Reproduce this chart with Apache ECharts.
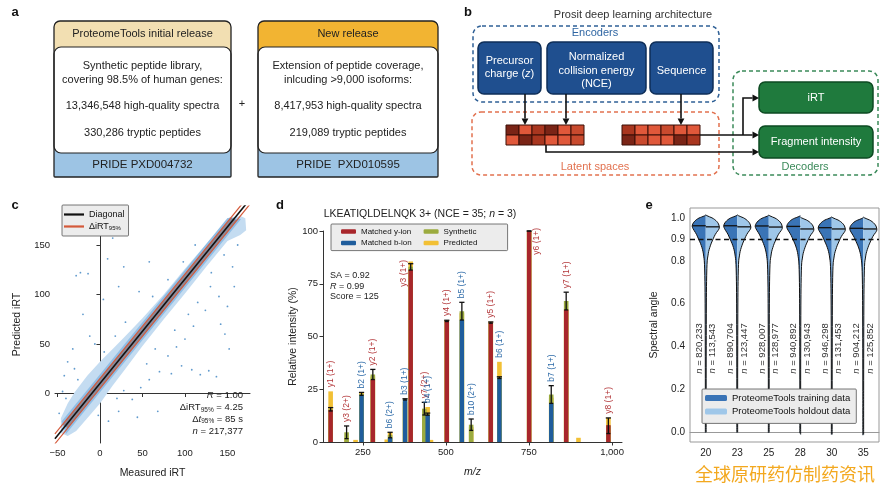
<!DOCTYPE html>
<html><head><meta charset="utf-8">
<script src="https://cdn.jsdelivr.net/npm/echarts@6/dist/echarts.min.js"></script>
<style>html,body{margin:0;padding:0;background:#fff}#c{width:892px;height:491px}</style>
</head><body><div id="c"></div>
<script>
// ================= DATA =================
// Panel a
const releaseTitles = ['ProteomeTools initial release', 'New release'];
const releaseDesc = [['Synthetic peptide library,', 'covering 98.5% of human genes:'],
                     ['Extension of peptide coverage,', 'inlcuding >9,000 isoforms:']];
const releaseSpectra = ['13,346,548 high-quality spectra', '8,417,953 high-quality spectra'];
const releasePeptides = ['330,286 tryptic peptides', '219,089 tryptic peptides'];
const releasePride = ['PRIDE PXD004732', 'PRIDE  PXD010595'];
// Panel b
const archTitle = 'Prosit deep learning architecture';
const encoderLabels = ['Precursor\ncharge ({i|z})', 'Normalized\ncollision energy\n(NCE)', 'Sequence'];
const decoderLabels = ['iRT', 'Fragment intensity'];
const groupLabels = ['Encoders', 'Latent spaces', 'Decoders'];
const latentShades1 = [[0, 1, 2, 0, 1, 3], [1, 0, 2, 1, 1, 3]];
const latentShades2 = [[2, 1, 1, 3, 1, 1], [0, 3, 1, 1, 0, 2]];
// Panel c
const diagonalPts = [[-53, -45.8], [177, 196.8]];
const deltaUpperPts = [[-53, -40.8], [177, 201.8]];
const deltaLowerPts = [[-53, -50.8], [177, 191.8]];
const cloudOutline = [[-46,-40],[-46,-25],[-38,-10],[-30,1],[-15,18],[0,32],[15,45],[30,58],[50,76],[75,100],[100,126],[125,151],[145,171],[152,178],[166,179],[171,177],
  [172,165],[165,160],[150,154],[125,128],[100,101],[75,75],[50,48],[30,25],[15,8],[0,-10],[-15,-25],[-28,-38],[-38,-43]];
const denseOutline = [[-45,-28],[150,177.4],[166,176.3],[-40,-41]];
const coreOutline = [[-44,-31.3],[154,177.6],[161,175],[-38,-35]];
const outlierPts = [[-28,119],[-23,122],[-14,121],[9,136],[28,128],[15,157],[-20,80],[4,95],[22,108],[-12,58],[-38,32],[-42,18],[-32,45],[-6,50],[46,103],[58,133],[-30,25],[-26,14],[5,42],[18,58],[30,72],[62,98],[80,115],[98,133],[112,150],[-40,-5],[-48,-20],[-44,2],
  [28,3],[38,-6],[48,6],[58,14],[70,22],[84,20],[96,28],[108,24],[118,19],[128,23],[137,17],[142,70],[147,60],[150,88],[158,108],[156,128],[140,98],[124,84],[110,68],[100,55],[90,47],[80,38],[68,-18],[44,-24],[22,-18],[10,-28],[104,80],[131,122],[146,140],[162,150],[55,30],[65,45],[88,64],[115,92],[130,108],[20,-5],[-2,-22],[152,45]];
const cTicks = [-50, 0, 50, 100, 150];
const cYTicks = [0, 50, 100, 150];
// Panel d
const spectrumTitle = 'LKEATIQLDELNQK 3+ (NCE = 35; {i|n} = 3)';
const peakMz       = [153, 201, 246, 280, 332, 377, 394, 435, 445, 502.6, 548, 576, 635, 661, 750.5, 817, 862, 989];
const peakType     = ['y','y','b','y','b','b','y','y','b','y','b','b','y','b','y','b','y','y'];
const peakLabel    = ['y1 (1+)','y3 (2+)','b2 (1+)','y2 (1+)','b6 (2+)','b3 (1+)','y3 (1+)','y7 (2+)','b4 (1+)','y4 (1+)','b5 (1+)','b10 (2+)','y5 (1+)','b6 (1+)','y6 (1+)','b7 (1+)','y7 (1+)','y8 (1+)'];
const peakMeasured = [15.2, 0, 22.3, 29.4, 2, 20.2, 81.5, 0, 12.8, 57.3, 57.8, 0, 56.6, 30.5, 100, 18.3, 62.6, 8];
const peakSynth    = [15.5, 4.6, 22.8, 32, 3.3, 20.2, 83, 15.8, 13.2, 57.4, 62, 8.2, 56.6, 30.5, 100, 22.5, 66.8, 7.7];
const peakSynthErr = [0.8, 3, 0.7, 2.4, 1.3, 0.3, 1.5, 3, 0.5, 0.3, 4.2, 2.7, 0.3, 0.4, 0, 4.2, 4.2, 3.7];
const peakPred     = [24, 2, 23.4, 31, 4.5, 19, 85.5, 15.5, 16.6, 57.8, 61, 7, 57, 38, 99.5, 21, 63, 11.5];
const extraPredMz  = [228, 322, 455, 899];
const extraPred    = [1, 1.2, 1, 2];
const spectrumStats = 'SA = 0.92\n{i|R} = 0.99\nScore = 125';
const dXTicks = [250, 500, 750, 1000];
// Panel e
const nceLabels = ['20', '23', '25', '28', '30', '35'];
const violinSA   = [1.012, 1.008, 1.003, 0.998, 0.99, 0.98, 0.97, 0.96, 0.95, 0.94, 0.93, 0.92, 0.91, 0.90, 0.89, 0.88, 0.86, 0.84, 0.82, 0.80, 0.76, 0.70, 0.60, 0.40, 0.20, -0.005];
const trainShape = [0, 0.10, 0.30, 0.50, 0.70, 0.86, 0.96, 1.0, 0.95, 0.86, 0.76, 0.67, 0.60, 0.53, 0.46, 0.39, 0.28, 0.20, 0.15, 0.11, 0.08, 0.06, 0.045, 0.035, 0.03, 0.03];
const holdShape  = [0, 0.09, 0.27, 0.46, 0.66, 0.83, 0.94, 0.99, 1.0, 0.92, 0.80, 0.70, 0.62, 0.55, 0.48, 0.41, 0.30, 0.21, 0.16, 0.11, 0.08, 0.06, 0.045, 0.035, 0.03, 0.03];
const trainShapeCenter = 0.962, holdShapeCenter = 0.956;
const trainMedian = [0.964, 0.964, 0.963, 0.961, 0.955, 0.952];
const holdMedian  = [0.959, 0.959, 0.958, 0.949, 0.949, 0.949];
const trainN = ['820,233', '890,704', '928,007', '940,892', '946,298', '904,212'];
const holdN  = ['113,543', '123,447', '128,977', '130,943', '131,453', '125,852'];
const eYTicks = [0, 0.2, 0.4, 0.6, 0.8, 0.9, 1.0];
const threshold = 0.9;
const watermark = '全球原研药仿制药资讯';

// ================= HELPERS =================
const FF = '"Liberation Sans", Arial, sans-serif';
const fnt = (s, st) => (st ? st + ' ' : '') + s + 'px ' + FF;
function txt(x, y, text, size, o) {
  o = o || {};
  const al = o.align || 'center', va = o.va || 'middle';
  const st = {text: text, font: o.font || fnt(size, o.style), fill: o.fill || '#222',
    align: al, textAlign: al, verticalAlign: va, textVerticalAlign: va};
  if (o.rich) st.rich = o.rich;
  if (o.lineHeight) { st.lineHeight = o.lineHeight; st.textLineHeight = o.lineHeight; }
  return {type: 'text', x: x, y: y, rotation: o.rotation || 0, z: o.z || 100, silent: true, style: st};
}
function arrow(pts) {
  const a = pts[pts.length - 2], b = pts[pts.length - 1];
  const dx = b[0] - a[0], dy = b[1] - a[1], L = Math.hypot(dx, dy), ux = dx / L, uy = dy / L;
  const hl = 6.5, hw = 3.4;
  const base = [b[0] - ux * hl, b[1] - uy * hl];
  const line = pts.slice(0, -1).concat([base]);
  return [
    {type: 'polyline', z: 50, silent: true, shape: {points: line}, style: {stroke: '#111', lineWidth: 1.6, fill: null}},
    {type: 'polygon', z: 50, silent: true, shape: {points: [[b[0], b[1]], [base[0] - uy * hw, base[1] + ux * hw], [base[0] + uy * hw, base[1] - ux * hw]]}, style: {fill: '#111'}}
  ];
}
function interp(xs, ys, v) {
  for (let k = 0; k < xs.length - 1; k++) {
    const a = xs[k], b = xs[k + 1];
    if ((v <= a && v >= b) || (v >= a && v <= b)) { const t = (v - a) / (b - a); return ys[k] + t * (ys[k + 1] - ys[k]); }
  }
  return 0;
}

const G = [];
[['a', 15, 12], ['b', 468, 12], ['c', 15, 205], ['d', 280, 205], ['e', 649, 205]].forEach(p => G.push(txt(p[1], p[2], p[0], 13, {style: 'bold', fill: '#111'})));

// ---- Panel a
const boxX = [54, 258], boxW = [177, 180];
const headerFills = ['#f2dfb2', '#f2b432'];
for (let i = 0; i < 2; i++) {
  const x = boxX[i], w = boxW[i], cx = x + w / 2;
  G.push({type: 'rect', silent: true, z: 10, shape: {x: x, y: 21, width: w, height: 156, r: [6, 6, 1, 1]}, style: {fill: headerFills[i]}});
  G.push({type: 'rect', silent: true, z: 11, shape: {x: x, y: 130, width: w, height: 47, r: [0, 0, 1, 1]}, style: {fill: '#9dc4e4'}});
  G.push({type: 'rect', silent: true, z: 12, shape: {x: x, y: 47, width: w, height: 106, r: 7}, style: {fill: '#fff', stroke: '#222', lineWidth: 1.2}});
  G.push({type: 'rect', silent: true, z: 13, shape: {x: x, y: 21, width: w, height: 156, r: [6, 6, 1, 1]}, style: {fill: null, stroke: '#222', lineWidth: 1.3}});
  G.push(txt(cx, 34, releaseTitles[i], 11));
  G.push(txt(cx, 66, releaseDesc[i][0], 11));
  G.push(txt(cx, 80, releaseDesc[i][1], 11));
  G.push(txt(cx, 106, releaseSpectra[i], 11));
  G.push(txt(cx, 133, releasePeptides[i], 11));
  G.push(txt(cx, 165, releasePride[i], 11.5));
}
G.push(txt(242, 104, '+', 11));

// ---- Panel b
G.push(txt(633, 15, archTitle, 11, {fill: '#333'}));
G.push({type: 'rect', silent: true, z: 20, shape: {x: 473, y: 26, width: 246, height: 76, r: 9}, style: {fill: null, stroke: '#2f6096', lineWidth: 1.5, lineDash: [4, 3]}});
G.push({type: 'rect', silent: true, z: 20, shape: {x: 472, y: 112, width: 247, height: 63, r: 9}, style: {fill: null, stroke: '#e2714f', lineWidth: 1.5, lineDash: [4, 3]}});
G.push({type: 'rect', silent: true, z: 20, shape: {x: 733, y: 71, width: 145, height: 104, r: 9}, style: {fill: null, stroke: '#3b8a5a', lineWidth: 1.5, lineDash: [4, 3]}});
G.push(txt(595, 33, groupLabels[0], 11, {fill: '#2f66a3'}));
G.push(txt(595, 167, groupLabels[1], 11, {fill: '#e2714f'}));
G.push(txt(805, 167, groupLabels[2], 11, {fill: '#3b8a5a'}));
const encBoxes = [[478, 63, 67.5], [547, 99, 70.5], [650, 63, 71]];
encBoxes.forEach((b, i) => {
  G.push({type: 'rect', silent: true, z: 30, shape: {x: b[0], y: 42, width: b[1], height: 52, r: 6}, style: {fill: '#1f4f8f', stroke: '#0e2e58', lineWidth: 1.5}});
  G.push(txt(b[0] + b[1] / 2, b[2], encoderLabels[i], 11, {fill: '#fff', lineHeight: 13.4, rich: {i: {font: fnt(11, 'italic'), fill: '#fff'}}}));
});
[[82, 31], [126, 32]].forEach((b, i) => {
  G.push({type: 'rect', silent: true, z: 30, shape: {x: 759, y: b[0], width: 114, height: b[1], r: 6}, style: {fill: '#1f7a3d', stroke: '#0d4a22', lineWidth: 1.5}});
  G.push(txt(816, b[0] + b[1] / 2, decoderLabels[i], 11, {fill: '#fff'}));
});
const latentPalette = ['#7a2416', '#e0583a', '#a9361f', '#c94a2e'];
[[506, latentShades1], [622, latentShades2]].forEach(g => {
  g[1].forEach((row, r) => row.forEach((c, k) => {
    G.push({type: 'rect', silent: true, z: 30, shape: {x: g[0] + k * 13, y: 125 + r * 10, width: 13, height: 10}, style: {fill: latentPalette[c], stroke: '#3a0e06', lineWidth: 1}});
  }));
});
[[[525, 94], [525, 125]], [[566, 94], [566, 125]], [[681, 94], [681, 125]],
 [[700, 135], [759, 135]], [[743, 135], [743, 98], [759, 98]], [[546, 145], [546, 152], [759, 152]]]
  .forEach(p => arrow(p).forEach(e => G.push(e)));

// ---- Panel c stats
G.push(txt(243, 390, '{i|R}{t| = 1.00}\n{t|ΔiRT}{s|95%}{t| = 4.25}\n{t|Δ}{i|t}{s|95%}{t| = 85 s}\n{i|n}{t| = 217,377}', 9.5,
  {align: 'right', va: 'top', lineHeight: 11.7,
   rich: {t: {font: fnt(9.5), fill: '#222', lineHeight: 11.7}, i: {font: fnt(9.5, 'italic'), fill: '#222', lineHeight: 11.7},
          s: {font: fnt(6.5), fill: '#222', lineHeight: 7, verticalAlign: 'bottom'}}}));
// ---- Panel d title and stats
G.push(txt(420, 214, spectrumTitle, 10.5, {rich: {i: {font: fnt(10.5, 'italic'), fill: '#222'}}}));
G.push(txt(330, 270, spectrumStats, 9, {align: 'left', va: 'top', lineHeight: 10.7, rich: {i: {font: fnt(9, 'italic'), fill: '#222'}}}));
// ---- watermark
G.push({type: 'text', x: 785, y: 474, z: 200, silent: true, style: {text: watermark, font: '18px "Noto Sans CJK SC"', fill: '#f3a81f', align: 'center', textAlign: 'center', verticalAlign: 'middle', textVerticalAlign: 'middle'}});

// ================= CHART =================
const axisCommon = (extra) => Object.assign({
  axisLine: {lineStyle: {color: '#333', width: 1}},
  axisTick: {length: 3.5, lineStyle: {color: '#333'}},
  axisLabel: {color: '#222', fontSize: 9.5, fontFamily: FF, margin: 4},
  splitLine: {show: false},
  nameTextStyle: {color: '#222', fontSize: 10.5, fontFamily: FF},
  nameLocation: 'middle'
}, extra);
const minusFmt = v => (v < 0 ? '\u2212' + Math.abs(v) : String(v));

const polySeries = (name, pts, color, z) => ({
  type: 'custom', name: name, xAxisIndex: 0, yAxisIndex: 0, z: z, silent: true, data: [pts[0]],
  renderItem: (params, api) => ({type: 'polygon', shape: {points: pts.map(p => api.coord(p))}, style: {fill: color}})
});

const barRender = (w) => (params, api) => {
  const p = api.coord([api.value(0), api.value(1)]);
  const b = api.coord([api.value(0), 0]);
  return {type: 'rect', shape: {x: p[0] - w / 2, y: p[1], width: w, height: b[1] - p[1]}, style: {fill: api.visual('color')}};
};
const Y_COL = '#a8262b', B_COL = '#1f5d9c', S_COL = '#9bab3f', P_COL = '#f2c035';
const predData = peakMz.map((m, i) => [m, peakPred[i]]).concat(extraPredMz.map((m, i) => [m, extraPred[i]]));
const synthData = peakMz.map((m, i) => [m, peakSynth[i]]);
const yData = [], bData = [];
peakMz.forEach((m, i) => { if (peakMeasured[i] > 0) (peakType[i] === 'y' ? yData : bData).push([m, peakMeasured[i]]); });
const errData = peakMz.map((m, i) => [m, peakSynth[i] - peakSynthErr[i], peakSynth[i] + peakSynthErr[i]]);
const labelData = peakMz.map((m, i) => [m, Math.max(peakMeasured[i], peakSynth[i] + peakSynthErr[i], peakPred[i]), i]);
const D_LEGEND = {left: 331, top: 224, width: 172};

const violinHalf = (side, shape, center, medians) => (params, api) => {
  const i = params.dataIndex;
  const shift = medians[i] - center;
  const cx = api.coord([i, 0])[0];
  const maxW = api.size([1, 0])[0] * 0.43;
  const pts = violinSA.map((s, k) => [cx + side * shape[k] * maxW, api.coord([i, s + shift])[1]]);
  const poly = pts.concat([[cx, pts[pts.length - 1][1]], [cx, pts[0][1]]]);
  return {type: 'polygon', shape: {points: poly}, style: {fill: api.visual('color')}};
};
const violinOutline = (params, api) => {
  const i = params.dataIndex;
  const cx = api.coord([i, 0])[0];
  const maxW = api.size([1, 0])[0] * 0.43;
  const sL = trainMedian[i] - trainShapeCenter, sR = holdMedian[i] - holdShapeCenter;
  const L = violinSA.map((s, k) => [cx - trainShape[k] * maxW, api.coord([i, s + sL])[1]]);
  const R = violinSA.map((s, k) => [cx + holdShape[k] * maxW, api.coord([i, s + sR])[1]]);
  const yMl = api.coord([i, trainMedian[i]])[1], yMr = api.coord([i, holdMedian[i]])[1];
  const wMl = interp(violinSA, trainShape, trainShapeCenter) * maxW, wMr = interp(violinSA, holdShape, holdShapeCenter) * maxW;
  const st = {stroke: '#111', lineWidth: 1, fill: null};
  return {type: 'group', children: [
    {type: 'polyline', shape: {points: L, smooth: 0.3}, style: st},
    {type: 'polyline', shape: {points: R, smooth: 0.3}, style: st},
    {type: 'line', shape: {x1: cx - wMl, y1: yMl, x2: cx, y2: yMl}, style: {stroke: '#111', lineWidth: 1.3}},
    {type: 'line', shape: {x1: cx, y1: yMr, x2: cx + wMr, y2: yMr}, style: {stroke: '#111', lineWidth: 1.3}}
  ]};
};

const option = {
  animation: false,
  backgroundColor: '#fff',
  textStyle: {fontFamily: FF},
  grid: [
    {left: 55, top: 206, width: 195, height: 237},
    {left: 323, top: 231, width: 299, height: 211},
    {left: 690, top: 208, width: 189, height: 234, show: true, borderColor: '#999', borderWidth: 1}
  ],
  xAxis: [
    axisCommon({gridIndex: 0, type: 'value', min: -52.9, max: 176.5, name: 'Measured iRT', nameGap: 25,
      axisTick: {customValues: cTicks, length: 3.5, lineStyle: {color: '#333'}},
      axisLabel: {customValues: cTicks, formatter: minusFmt, color: '#222', fontSize: 9.5, fontFamily: FF, margin: 5}}),
    axisCommon({gridIndex: 1, type: 'value', min: 130, max: 1030, name: 'm/z', nameGap: 25,
      nameTextStyle: {color: '#222', fontSize: 10.5, fontFamily: FF, fontStyle: 'italic'},
      axisTick: {customValues: dXTicks, length: 3.5, lineStyle: {color: '#333'}},
      axisLabel: {customValues: dXTicks, formatter: v => v >= 1000 ? '1,000' : String(v), color: '#222', fontSize: 9.5, fontFamily: FF, margin: 5}}),
    axisCommon({gridIndex: 2, type: 'category', data: nceLabels, boundaryGap: true,
      axisLine: {lineStyle: {color: '#999'}},
      axisTick: {alignWithLabel: true, length: 3.5, lineStyle: {color: '#333'}},
      axisLabel: {color: '#222', fontSize: 10, fontFamily: FF, margin: 6}})
  ],
  yAxis: [
    axisCommon({gridIndex: 0, type: 'value', min: -50, max: 189.4, name: 'Predicted iRT', nameGap: 32,
      axisTick: {customValues: cYTicks, length: 3.5, lineStyle: {color: '#333'}},
      axisLabel: {customValues: cYTicks, color: '#222', fontSize: 9.5, fontFamily: FF, margin: 5}}),
    axisCommon({gridIndex: 1, type: 'value', min: 0, max: 100, interval: 25, name: 'Relative intensity (%)', nameGap: 21,
      axisLabel: {color: '#222', fontSize: 9.5, fontFamily: FF, margin: 5}}),
    axisCommon({gridIndex: 2, type: 'value', min: -0.047, max: 1.047, name: 'Spectral angle', nameGap: 30,
      axisLine: {lineStyle: {color: '#999'}},
      axisTick: {customValues: eYTicks, length: 3.5, lineStyle: {color: '#333'}},
      axisLabel: {customValues: eYTicks, formatter: v => v.toFixed(1), color: '#222', fontSize: 10, fontFamily: FF, margin: 5}})
  ],
  legend: [
    {data: ['Diagonal', 'ΔiRT95%'], orient: 'vertical', left: 62, top: 205, icon: 'rect', itemWidth: 20, itemHeight: 2.2, itemGap: 3,
     backgroundColor: '#ececec', borderColor: '#555', borderWidth: 0.8, borderRadius: 1, padding: [5, 4, 5, 2],
     formatter: n => n === 'ΔiRT95%' ? '{t|ΔiRT}{s|95%}' : '{t|' + n + '}',
     textStyle: {fontSize: 9, color: '#111', fontFamily: FF, lineHeight: 9,
       rich: {t: {fontSize: 9, fontFamily: FF, color: '#111', lineHeight: 9}, s: {fontSize: 6, fontFamily: FF, color: '#111', lineHeight: 5, verticalAlign: 'bottom'}}}},
    {data: ['Matched y-ion', 'Synthetic', 'Matched b-ion', 'Predicted'], orient: 'horizontal', left: D_LEGEND.left, top: D_LEGEND.top, width: D_LEGEND.width,
     icon: 'roundRect', itemWidth: 15, itemHeight: 4.5, itemGap: 2.6,
     backgroundColor: '#ececec', borderColor: '#555', borderWidth: 0.8, borderRadius: 1, padding: [3, 4, 3, 10],
     textStyle: {fontSize: 8, color: '#111', fontFamily: FF, lineHeight: 9, width: 60}},
    {data: ['ProteomeTools training data', 'ProteomeTools holdout data'], orient: 'vertical', left: 702, top: 389,
     icon: 'roundRect', itemWidth: 22, itemHeight: 6, itemGap: 3.4,
     backgroundColor: '#ececec', borderColor: '#555', borderWidth: 0.8, borderRadius: 1, padding: [4, 6, 7, 3],
     textStyle: {fontSize: 9.5, color: '#111', fontFamily: FF, lineHeight: 10}}
  ],
  series: [
    // ---- c
    polySeries('cloud', cloudOutline, '#c4dcf1', 1),
    polySeries('dense', denseOutline, '#8fbee6', 1),
    polySeries('core', coreOutline, '#8b8a9a', 2),
    {type: 'scatter', name: 'outliers', xAxisIndex: 0, yAxisIndex: 0, data: outlierPts, symbolSize: 1.8, silent: true, z: 1,
     itemStyle: {color: '#4f8fc8', opacity: 0.9}},
    {type: 'line', name: 'ΔiRT95%', xAxisIndex: 0, yAxisIndex: 0, data: deltaUpperPts, symbol: 'none', silent: true, z: 4,
     itemStyle: {color: '#d4593a'}, lineStyle: {color: '#d4593a', width: 1.2}},
    {type: 'line', name: 'ΔiRT95%', xAxisIndex: 0, yAxisIndex: 0, data: deltaLowerPts, symbol: 'none', silent: true, z: 4,
     itemStyle: {color: '#d4593a'}, lineStyle: {color: '#d4593a', width: 1.2}},
    {type: 'line', name: 'Diagonal', xAxisIndex: 0, yAxisIndex: 0, data: diagonalPts, symbol: 'none', silent: true, z: 5,
     itemStyle: {color: '#111'}, lineStyle: {color: '#111', width: 1.6}},
    // ---- d
    {type: 'custom', name: 'Predicted', xAxisIndex: 1, yAxisIndex: 1, data: predData, z: 2, silent: true, itemStyle: {color: P_COL}, renderItem: barRender(4.6)},
    {type: 'custom', name: 'Synthetic', xAxisIndex: 1, yAxisIndex: 1, data: synthData, z: 3, silent: true, itemStyle: {color: S_COL}, renderItem: barRender(4.6)},
    {type: 'custom', name: 'Matched y-ion', xAxisIndex: 1, yAxisIndex: 1, data: yData, z: 4, silent: true, itemStyle: {color: Y_COL}, renderItem: barRender(4.4)},
    {type: 'custom', name: 'Matched b-ion', xAxisIndex: 1, yAxisIndex: 1, data: bData, z: 4, silent: true, itemStyle: {color: B_COL}, renderItem: barRender(4.4)},
    {type: 'custom', name: 'err', xAxisIndex: 1, yAxisIndex: 1, data: errData, z: 6, silent: true,
     renderItem: (params, api) => {
       const lo = api.coord([api.value(0), api.value(1)]), hi = api.coord([api.value(0), api.value(2)]);
       const cx = lo[0], st = {stroke: '#111', lineWidth: 1.3};
       return {type: 'group', children: [
         {type: 'line', shape: {x1: cx, y1: lo[1], x2: cx, y2: hi[1]}, style: st},
         {type: 'line', shape: {x1: cx - 2.6, y1: hi[1], x2: cx + 2.6, y2: hi[1]}, style: st},
         {type: 'line', shape: {x1: cx - 2, y1: lo[1], x2: cx + 2, y2: lo[1]}, style: st}
       ]};
     }},
    {type: 'custom', name: 'labels', xAxisIndex: 1, yAxisIndex: 1, data: labelData, z: 7, silent: true,
     renderItem: (params, api) => {
       const i = api.value(2);
       const p = api.coord([api.value(0), api.value(1)]);
       const gridTop = params.coordSys.y;
       const t = peakLabel[i];
       const len = t.length * 4.3;
       const legBottom = D_LEGEND.top + 27, legRight = D_LEGEND.left + D_LEGEND.width;
       let x = p[0], y = p[1] - 4, al = 'left';
       if (y - len < legBottom + 2 && p[0] > D_LEGEND.left && p[0] < legRight) { x = p[0] - 7; y = legBottom + 9; al = 'right'; }
       else if (y - len < gridTop - 2) { x = p[0] + 8; y = gridTop - 3; al = 'right'; }
       const col = peakType[i] === 'y' ? '#b3373a' : '#2e6ba8';
       return {type: 'text', x: x, y: y, rotation: Math.PI / 2,
         style: {text: t, font: fnt(8.5), fill: col, align: al, textAlign: al, verticalAlign: 'middle', textVerticalAlign: 'middle'}};
     }},
    // ---- e
    {type: 'custom', name: 'ProteomeTools training data', xAxisIndex: 2, yAxisIndex: 2, z: 2, silent: true,
     data: trainMedian.map((m, i) => [i, m]), itemStyle: {color: '#3a74b6'},
     renderItem: violinHalf(-1, trainShape, trainShapeCenter, trainMedian)},
    {type: 'custom', name: 'ProteomeTools holdout data', xAxisIndex: 2, yAxisIndex: 2, z: 2, silent: true,
     data: holdMedian.map((m, i) => [i, m]), itemStyle: {color: '#9fc7e9'},
     renderItem: violinHalf(1, holdShape, holdShapeCenter, holdMedian)},
    {type: 'custom', name: 'outline', xAxisIndex: 2, yAxisIndex: 2, z: 3, silent: true,
     data: trainMedian.map((m, i) => [i, m]), renderItem: violinOutline},
    {type: 'custom', name: 'ncount', xAxisIndex: 2, yAxisIndex: 2, z: 4, silent: true,
     data: trainN.map((n, i) => [i, 0.39]),
     renderItem: (params, api) => {
       const i = params.dataIndex;
       const p = api.coord([i, api.value(1)]);
       const mk = (x, s) => ({type: 'text', x: x, y: p[1], rotation: Math.PI / 2,
         style: {text: '{i|n} = ' + s, font: fnt(9.5), fill: '#333', align: 'center', textAlign: 'center', verticalAlign: 'middle', textVerticalAlign: 'middle',
           rich: {i: {font: fnt(9.5, 'italic'), fill: '#333'}}}});
       return {type: 'group', children: [mk(p[0] - 6.5, trainN[i]), mk(p[0] + 6.7, holdN[i])]};
     }},
    {type: 'line', name: 'threshold', xAxisIndex: 2, yAxisIndex: 2, data: [], z: 8, silent: true,
     markLine: {silent: true, symbol: 'none', label: {show: false}, lineStyle: {type: [5, 3.5], color: '#111', width: 1.4},
       data: [{yAxis: threshold}]}}
  ],
  graphic: {elements: G}
};
const chart = echarts.init(document.getElementById('c'));
chart.setOption(option);
</script></body></html>
